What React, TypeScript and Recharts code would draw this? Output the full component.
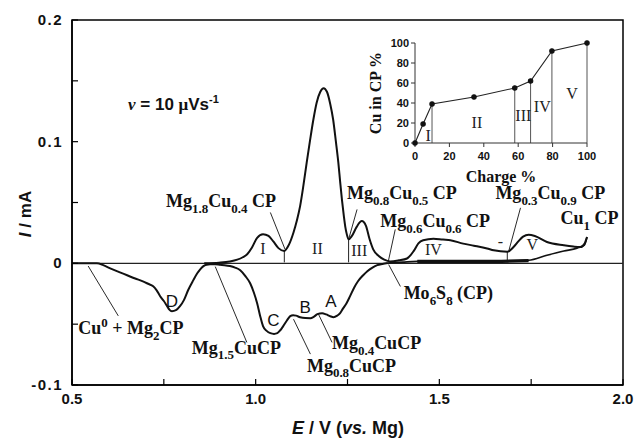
import React from 'react';
import { LineChart, Line, XAxis, YAxis, ReferenceLine, ReferenceDot, ReferenceArea } from 'recharts';

// ---------- main voltammogram data ----------
// anodic (charge) scan – upper curve
const anodicE = [0.86, 0.9, 0.93, 0.95, 0.965, 0.977, 0.99, 1.004, 1.02, 1.035, 1.048, 1.062, 1.078, 1.09, 1.103, 1.112, 1.121, 1.13, 1.139, 1.148, 1.157, 1.166, 1.176, 1.185, 1.194, 1.203, 1.211, 1.218, 1.225, 1.23, 1.235, 1.24, 1.244, 1.248, 1.253, 1.262, 1.275, 1.289, 1.3, 1.31, 1.32, 1.335, 1.35, 1.366, 1.39, 1.412, 1.43, 1.443, 1.456, 1.484, 1.51, 1.53, 1.565, 1.594, 1.63, 1.648, 1.685, 1.702, 1.715, 1.728, 1.743, 1.76, 1.793, 1.839, 1.865, 1.884, 1.895, 1.902];
const anodicI = [0.0, 0.0005, 0.0015, 0.003, 0.005, 0.0075, 0.013, 0.021, 0.024, 0.0225, 0.018, 0.0125, 0.0102, 0.015, 0.0254, 0.035, 0.047, 0.064, 0.083, 0.101, 0.118, 0.132, 0.141, 0.144, 0.141, 0.131, 0.118, 0.101, 0.083, 0.067, 0.052, 0.039, 0.03, 0.024, 0.0197, 0.0225, 0.03, 0.0347, 0.031, 0.02, 0.0115, 0.006, 0.003, 0.0016, 0.0025, 0.004, 0.01, 0.0164, 0.019, 0.0203, 0.0195, 0.019, 0.0162, 0.0145, 0.0122, 0.0107, 0.0095, 0.0134, 0.018, 0.022, 0.0235, 0.0225, 0.0175, 0.0148, 0.0138, 0.0134, 0.016, 0.0216];

// return of the scan near zero current (1.9 V back to 1.36 V)
const returnE = [1.36, 1.4, 1.44, 1.55, 1.65, 1.743, 1.793, 1.839, 1.875, 1.895, 1.902];
const returnI = [0.0003, 0.001, 0.0016, 0.0016, 0.0016, 0.0025, 0.0066, 0.0101, 0.0125, 0.015, 0.0216];
const overlapE = [1.44, 1.55, 1.65, 1.743];
const overlapI = [0.0016, 0.0016, 0.0016, 0.0022];

// cathodic (discharge) scan – lower curve
const cathodicE = [0.5, 0.55, 0.568, 0.585, 0.604, 0.627, 0.65, 0.672, 0.693, 0.707, 0.721, 0.73, 0.74, 0.75, 0.759, 0.765, 0.772, 0.783, 0.794, 0.805, 0.816, 0.83, 0.841, 0.849, 0.857, 0.866, 0.876, 0.89, 0.903, 0.915, 0.93, 0.944, 0.958, 0.972, 0.985, 0.995, 1.004, 1.012, 1.02, 1.03, 1.04, 1.05, 1.059, 1.067, 1.075, 1.085, 1.094, 1.102, 1.11, 1.121, 1.135, 1.149, 1.158, 1.168, 1.181, 1.192, 1.203, 1.212, 1.222, 1.23, 1.238, 1.247, 1.257, 1.268, 1.279, 1.292, 1.304, 1.318, 1.331, 1.345, 1.36];
const cathodicI = [0, 0, 0, -0.0015, -0.0041, -0.007, -0.0098, -0.0125, -0.0148, -0.0168, -0.0189, -0.022, -0.027, -0.031, -0.0352, -0.038, -0.0393, -0.0385, -0.0352, -0.03, -0.0221, -0.014, -0.0082, -0.005, -0.0025, -0.0012, -0.0008, -0.0008, -0.0012, -0.0015, -0.0022, -0.0035, -0.0057, -0.0105, -0.0164, -0.024, -0.0328, -0.043, -0.0516, -0.0555, -0.0574, -0.058, -0.0574, -0.055, -0.0516, -0.047, -0.0434, -0.0426, -0.043, -0.0443, -0.045, -0.0451, -0.044, -0.0418, -0.041, -0.042, -0.0435, -0.0443, -0.043, -0.041, -0.037, -0.033, -0.027, -0.02, -0.0145, -0.01, -0.0065, -0.0035, -0.0015, -0.0005, 0.0003];

// axis ticks
const xTicks = [0.5, 0.75, 1.0, 1.25, 1.5, 1.75, 2.0];
const yTicks = [-0.1, -0.05, 0, 0.05, 0.1, 0.15, 0.2];

// region boundaries on the anodic curve (current minima)
const dividerE = [1.078, 1.253, 1.685];
const dividerTop = [0.0102, 0.0197, 0.0095];

// ---------- inset data ----------
const chargePct = [0, 4.7, 9.9, 34.3, 58, 67.2, 79.6, 100];
const cuInCP = [0, 19, 39, 46, 55, 62, 92, 100];
const boundaryIdx = [2, 4, 5, 6, 7];
const insetTicks = [0, 20, 40, 60, 80, 100];
const insetRegions = ['I', 'II', 'III', 'IV', 'V'];
const insetRegionCharge = [7.6, 36, 63, 74, 91.3];
const insetRegionCu = [8, 21, 28, 37, 50];

// ---------- annotations (data coordinates) ----------
const phaseLabels = [
  { text: 'Mg_{1.8}Cu_{0.4} CP', e: 0.756, i: 0.0459 },
  { text: 'Mg_{0.8}Cu_{0.5} CP', e: 1.2485, i: 0.0525 },
  { text: 'Mg_{0.6}Cu_{0.6} CP', e: 1.339, i: 0.0295 },
  { text: 'Mg_{0.3}Cu_{0.9} CP', e: 1.6526, i: 0.0525 },
  { text: 'Cu_{1} CP', e: 1.8297, i: 0.032 },
  { text: 'Mo_{6}S_{8} (CP)', e: 1.4028, i: -0.0295 },
  { text: 'Cu^{0} + Mg_{2}CP', e: 0.517, i: -0.0582 },
  { text: 'Mg_{1.5}CuCP', e: 0.826, i: -0.0746 },
  { text: 'Mg_{0.4}CuCP', e: 1.2076, i: -0.0705 },
  { text: 'Mg_{0.8}CuCP', e: 1.1395, i: -0.0893 },
];
const pointers = [
  [1.04, 0.0418, 1.08, 0.0115],
  [1.276, 0.0443, 1.253, 0.0197],
  [1.38, 0.0279, 1.361, 0.0015],
  [1.362, -0.001, 1.394, -0.019],
  [1.721, 0.0456, 1.689, 0.0101],
  [0.626, -0.0432, 0.544, -0.0022],
  [0.976, -0.065, 0.89, -0.0027],
  [1.149, -0.0746, 1.103, -0.0459],
  [1.208, -0.065, 1.171, -0.0418],
];
const romanLabels = [
  { text: 'I', e: 1.02, i: 0.013 },
  { text: 'II', e: 1.168, i: 0.013 },
  { text: 'III', e: 1.282, i: 0.011 },
  { text: 'IV', e: 1.484, i: 0.0115 },
  { text: 'V', e: 1.753, i: 0.0156 },
  { text: '-', e: 1.666, i: 0.018 },
];
const peakLetters = [
  { text: 'D', e: 0.772, i: -0.031 },
  { text: 'C', e: 1.048, i: -0.0465 },
  { text: 'B', e: 1.135, i: -0.036 },
  { text: 'A', e: 1.205, i: -0.031 },
];

const zip = (xs: number[], ys: number[]) => xs.map((x, k) => ({ x, y: ys[k] }));
const anodic = zip(anodicE, anodicI);
const ret = zip(returnE, returnI);
const overlap = zip(overlapE, overlapI);
const cathodic = zip(cathodicE, cathodicI);
const insetData = chargePct.map((c, k) => ({ charge: c, cu: cuInCP[k] }));

const SERIF = '"Liberation Serif", "Times New Roman", serif';
const SANS = '"Liberation Sans", Arial, Helvetica, sans-serif';

function rich(src: string, fs: number) {
  const parts: { t: string; k: string }[] = [];
  const re = /([_^])\{([^}]*)\}/g;
  let last = 0;
  let m: RegExpExecArray | null;
  while ((m = re.exec(src))) {
    if (m.index > last) parts.push({ t: src.slice(last, m.index), k: 'n' });
    parts.push({ t: m[2], k: m[1] === '_' ? 'sub' : 'sup' });
    last = re.lastIndex;
  }
  if (last < src.length) parts.push({ t: src.slice(last), k: 'n' });
  let cur = 0;
  return parts.map((p, idx) => {
    const target = p.k === 'sub' ? fs * 0.3 : p.k === 'sup' ? -fs * 0.38 : 0;
    const dy = target - cur;
    cur = target;
    return (
      <tspan key={idx} dy={dy} fontSize={p.k === 'n' ? fs : fs * 0.72}>
        {p.t}
      </tspan>
    );
  });
}

const XTick = (props: any) => {
  const { x, y, payload } = props;
  const v = payload.value;
  const major = Math.abs(v * 2 - Math.round(v * 2)) < 1e-6;
  return (
    <g>
      <line x1={x} x2={x} y1={y} y2={y - 6} stroke="#000" strokeWidth={1.2} />
      {major && (
        <text x={x} y={y + 19} textAnchor="middle" fontFamily={SANS} fontWeight="bold" fontSize={15} fill="#111">
          {v.toFixed(1)}
        </text>
      )}
    </g>
  );
};

const YTick = (props: any) => {
  const { x, y, payload } = props;
  const v = payload.value;
  const major = Math.abs(v * 10 - Math.round(v * 10)) < 1e-6;
  return (
    <g>
      <line x1={x} x2={x + 6} y1={y} y2={y} stroke="#000" strokeWidth={1.2} />
      {major && (
        <text x={x - 9} y={y + 5} textAnchor="end" fontFamily={SANS} fontWeight="bold" fontSize={15} letterSpacing={1.5} fill="#111">
          {Math.abs(v) < 1e-9 ? '0' : v.toFixed(1)}
        </text>
      )}
    </g>
  );
};

const InsetXTick = (props: any) => {
  const { x, y, payload } = props;
  return (
    <text x={x} y={y + 13} textAnchor="middle" fontFamily={SANS} fontWeight="bold" fontSize={11} fill="#111">
      {payload.value}
    </text>
  );
};
const InsetYTick = (props: any) => {
  const { x, y, payload } = props;
  return (
    <text x={x - 2} y={y + 4} textAnchor="end" fontFamily={SANS} fontWeight="bold" fontSize={11} fill="#111">
      {payload.value}
    </text>
  );
};

export default function App() {
  return (
    <div style={{ position: 'absolute', left: 0, top: 0, width: 638, height: 438, background: '#fff', overflow: 'hidden' }}>
      <div style={{ position: 'absolute', left: 0, top: 0 }}>
        <LineChart width={638} height={438} margin={{ top: 20, right: 15, bottom: 0, left: 0 }}>
          <XAxis
            type="number"
            dataKey="x"
            domain={[0.5, 2]}
            allowDataOverflow
            ticks={xTicks}
            interval={0}
            tick={XTick}
            tickLine={false}
            tickSize={0}
            tickMargin={0}
            height={53}
            axisLine={{ stroke: '#000', strokeWidth: 1.5 }}
          />
          <YAxis
            type="number"
            dataKey="y"
            domain={[-0.1, 0.2]}
            allowDataOverflow
            ticks={yTicks}
            interval={0}
            tick={YTick}
            tickLine={false}
            tickSize={0}
            tickMargin={0}
            width={72}
            axisLine={{ stroke: '#000', strokeWidth: 1.5 }}
          />
          <ReferenceArea x1={0.5} x2={2} y1={-0.1} y2={0.2} fill="none" stroke="#000" strokeWidth={1.5} fillOpacity={0} />
          <ReferenceLine y={0} stroke="#222" strokeWidth={1.1} />
          {dividerE.map((e, k) => (
            <ReferenceLine key={'d' + k} segment={[{ x: e, y: dividerTop[k] }, { x: e, y: 0.0008 }]} stroke="#222" strokeWidth={1} />
          ))}
          {pointers.map((p, k) => (
            <ReferenceLine key={'p' + k} segment={[{ x: p[0], y: p[1] }, { x: p[2], y: p[3] }]} stroke="#111" strokeWidth={0.9} />
          ))}
          <Line data={cathodic} dataKey="y" type="monotone" stroke="#111" strokeWidth={2} dot={false} isAnimationActive={false} />
          <Line data={ret} dataKey="y" type="monotone" stroke="#111" strokeWidth={1.6} dot={false} isAnimationActive={false} />
          <Line data={overlap} dataKey="y" type="monotone" stroke="#111" strokeWidth={3.2} dot={false} isAnimationActive={false} />
          <Line data={anodic} dataKey="y" type="monotone" stroke="#111" strokeWidth={2} dot={false} isAnimationActive={false} />
          {phaseLabels.map((a, k) => (
            <ReferenceDot
              key={'l' + k}
              x={a.e}
              y={a.i}
              r={0}
              ifOverflow="visible"
              shape={(p: any) => (
                <text x={p.cx} y={p.cy} fontFamily={SERIF} fontWeight="bold" fontSize={18} fill="#111" style={{ whiteSpace: 'pre' }}>
                  {rich(a.text, 18)}
                </text>
              )}
            />
          ))}
          {romanLabels.map((a, k) => (
            <ReferenceDot
              key={'r' + k}
              x={a.e}
              y={a.i}
              r={0}
              ifOverflow="visible"
              shape={(p: any) => (
                <text x={p.cx} y={p.cy + 6} textAnchor="middle" fontFamily={SERIF} fontSize={16} fill="#222">
                  {a.text}
                </text>
              )}
            />
          ))}
          {peakLetters.map((a, k) => (
            <ReferenceDot
              key={'c' + k}
              x={a.e}
              y={a.i}
              r={0}
              ifOverflow="visible"
              shape={(p: any) => (
                <text x={p.cx} y={p.cy + 6} textAnchor="middle" fontFamily={SANS} fontSize={17} fill="#111">
                  {a.text}
                </text>
              )}
            />
          ))}
        </LineChart>
      </div>

      <div style={{ position: 'absolute', left: 360, top: 30 }}>
        <LineChart width={240} height={160} data={insetData} margin={{ top: 13, right: 13, bottom: 0, left: 0 }}>
          <XAxis
            type="number"
            dataKey="charge"
            domain={[0, 100]}
            ticks={insetTicks}
            interval={0}
            tick={InsetXTick}
            tickSize={4}
            tickMargin={0}
            height={47}
            stroke="#333"
            tickLine={{ stroke: '#333' }}
          />
          <YAxis
            type="number"
            domain={[0, 100]}
            ticks={insetTicks}
            interval={0}
            tick={InsetYTick}
            tickSize={4}
            tickMargin={0}
            width={55}
            stroke="#333"
            tickLine={{ stroke: '#333' }}
          />
          {boundaryIdx.map((k) => (
            <ReferenceLine
              key={'b' + k}
              segment={[{ x: chargePct[k], y: 0 }, { x: chargePct[k], y: cuInCP[k] }]}
              stroke="#555"
              strokeWidth={1}
            />
          ))}
          <Line dataKey="cu" type="linear" stroke="#222" strokeWidth={1.1} dot={{ r: 2.2, fill: '#111', stroke: '#111' }} isAnimationActive={false} />
          {insetRegions.map((t, k) => (
            <ReferenceDot
              key={'ir' + k}
              x={insetRegionCharge[k]}
              y={insetRegionCu[k]}
              r={0}
              ifOverflow="visible"
              shape={(p: any) => (
                <text x={p.cx} y={p.cy + 6} textAnchor="middle" fontFamily={SERIF} fontSize={16} fill="#222">
                  {t}
                </text>
              )}
            />
          ))}
        </LineChart>
      </div>

      <svg width={638} height={438} style={{ position: 'absolute', left: 0, top: 0, pointerEvents: 'none' }}>
        <text x={348} y={434} textAnchor="middle" fontFamily={SANS} fontWeight="bold" fontSize={18} fill="#111" style={{ whiteSpace: 'pre' }}>
          <tspan fontStyle="italic">E</tspan>
          <tspan> / V (</tspan>
          <tspan fontStyle="italic">vs.</tspan>
          <tspan> Mg)</tspan>
        </text>
        <text x={0} y={0} transform="translate(31 214) rotate(-90)" textAnchor="middle" fontFamily={SANS} fontWeight="bold" fontSize={17} fill="#111" style={{ whiteSpace: 'pre' }}>
          <tspan fontStyle="italic">I</tspan>
          <tspan> / mA</tspan>
        </text>
        <text x={128} y={110} fontFamily={SANS} fontWeight="bold" fontSize={17} fill="#111" style={{ whiteSpace: 'pre' }}>
          <tspan fontFamily={SERIF} fontStyle="italic">ν</tspan>
          <tspan> = 10 </tspan>
          <tspan fontFamily={SERIF}>μ</tspan>
          <tspan>Vs</tspan>
          <tspan dy={-7} fontSize={11}>-1</tspan>
        </text>
        <text x={501} y={182} textAnchor="middle" fontFamily={SERIF} fontWeight="bold" fontSize={16} fill="#111">
          Charge %
        </text>
        <text x={0} y={0} transform="translate(381 93) rotate(-90)" textAnchor="middle" fontFamily={SERIF} fontWeight="bold" fontSize={16} fill="#111">
          Cu in CP %
        </text>
      </svg>
    </div>
  );
}
